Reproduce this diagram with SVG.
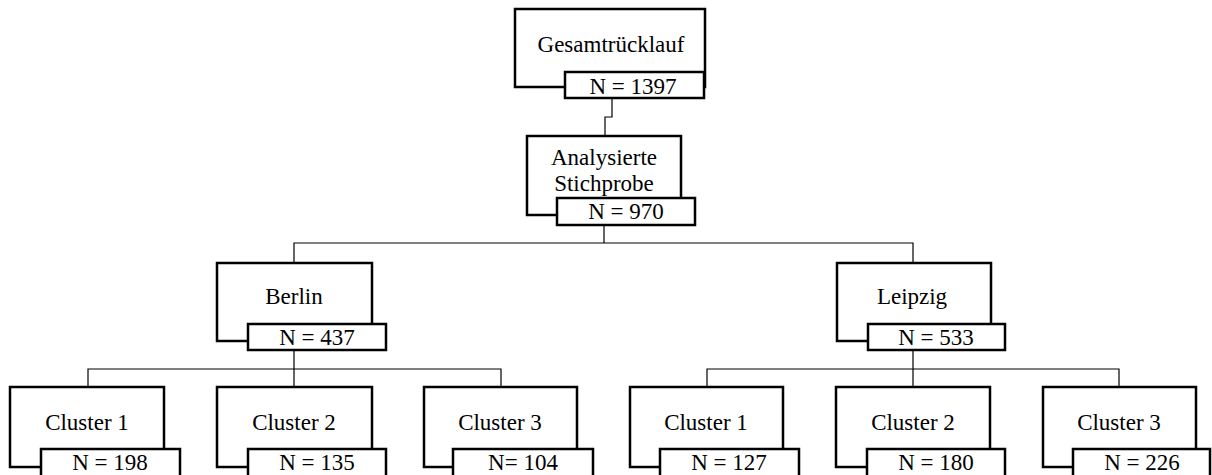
<svg xmlns="http://www.w3.org/2000/svg" width="1212" height="475" viewBox="0 0 1212 475">
<style>
.box{fill:#fff;stroke:#000;stroke-width:2.5}
.nb{fill:#fff;stroke:#000;stroke-width:2.5}
.lbl{font-family:"Liberation Serif","Times New Roman",serif;font-size:23px;fill:#000;text-anchor:middle}
.con{fill:none;stroke:#000;stroke-width:1.2}
</style>
<rect width="1212" height="475" fill="#fff"/>
<g id="connectors">
<path class="con" d="M612,98 V117 H605 V136"/>
<path class="con" d="M604,225 V243 M294,263 V243 H913 V263"/>
<path class="con" d="M294,350 V369 M88,387 V369 H501 V387 M294,369 V387"/>
<path class="con" d="M913,350 V369 M707,387 V369 H1119 V387 M913,369 V387"/>
</g>
<g id="gesamt">
<rect class="box" x="515" y="9" width="190" height="78"/>
<rect class="nb" x="565" y="72" width="139" height="26"/>
<text class="lbl" x="611" y="52">Gesamtrücklauf</text>
<text class="lbl" x="633" y="94">N = 1397</text>
</g>
<g id="stichprobe">
<rect class="box" x="527" y="136" width="154" height="79"/>
<rect class="nb" x="557" y="198" width="138" height="27"/>
<text class="lbl" x="604" y="165">Analysierte</text>
<text class="lbl" x="604" y="191">Stichprobe</text>
<text class="lbl" x="626" y="219">N = 970</text>
</g>
<g id="berlin">
<rect class="box" x="217" y="263" width="155" height="78"/>
<rect class="nb" x="248" y="324" width="138" height="26"/>
<text class="lbl" x="294" y="304">Berlin</text>
<text class="lbl" x="317" y="345">N = 437</text>
</g>
<g id="leipzig">
<rect class="box" x="837" y="263" width="154" height="78"/>
<rect class="nb" x="868" y="324" width="137" height="26"/>
<text class="lbl" x="912" y="304">Leipzig</text>
<text class="lbl" x="936" y="345">N = 533</text>
</g>
<g id="berlin-cluster1">
<rect class="box" x="10" y="387" width="154" height="80"/>
<rect class="nb" x="41" y="449" width="139" height="32"/>
<text class="lbl" x="87" y="430">Cluster 1</text>
<text class="lbl" x="110" y="470">N = 198</text>
</g>
<g id="berlin-cluster2">
<rect class="box" x="217" y="387" width="155" height="80"/>
<rect class="nb" x="248" y="449" width="138" height="32"/>
<text class="lbl" x="294" y="430">Cluster 2</text>
<text class="lbl" x="317" y="470">N = 135</text>
</g>
<g id="berlin-cluster3">
<rect class="box" x="424" y="387" width="153" height="80"/>
<rect class="nb" x="453" y="449" width="140" height="32"/>
<text class="lbl" x="500" y="430">Cluster 3</text>
<text class="lbl" x="523" y="470">N= 104</text>
</g>
<g id="leipzig-cluster1">
<rect class="box" x="630" y="387" width="153" height="80"/>
<rect class="nb" x="660" y="449" width="139" height="32"/>
<text class="lbl" x="706" y="430">Cluster 1</text>
<text class="lbl" x="729" y="470">N = 127</text>
</g>
<g id="leipzig-cluster2">
<rect class="box" x="836" y="387" width="154" height="80"/>
<rect class="nb" x="867" y="449" width="138" height="32"/>
<text class="lbl" x="913" y="430">Cluster 2</text>
<text class="lbl" x="936" y="470">N = 180</text>
</g>
<g id="leipzig-cluster3">
<rect class="box" x="1043" y="387" width="153" height="80"/>
<rect class="nb" x="1073" y="449" width="137" height="32"/>
<text class="lbl" x="1119" y="430">Cluster 3</text>
<text class="lbl" x="1142" y="470">N = 226</text>
</g>
</svg>
